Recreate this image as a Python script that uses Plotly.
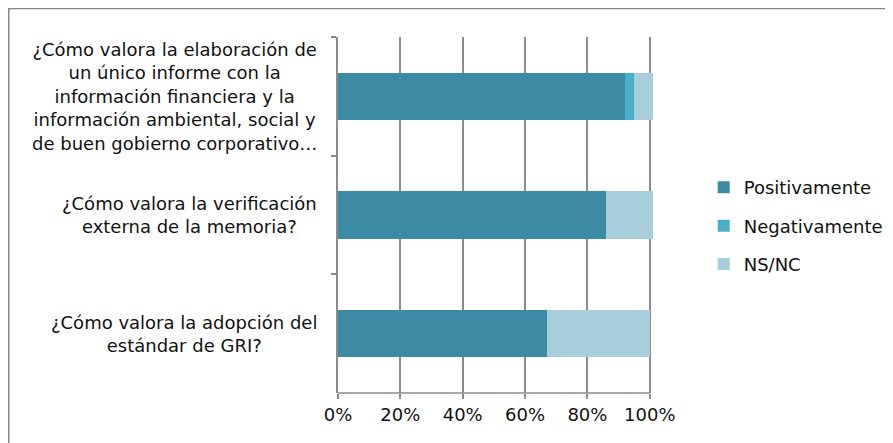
import plotly.graph_objs as go

# survey questions (top to bottom) and answer shares
preguntas = [
    "¿Cómo valora la elaboración de<br>un único informe con la<br>información financiera y la<br>información ambiental, social y<br>de buen gobierno corporativo…",
    "¿Cómo valora la verificación<br>externa de la memoria?",
    "¿Cómo valora la adopción del<br>estándar de GRI?",
]
cat_ids = ["q1", "q2", "q3"]
positivamente = [0.92, 0.86, 0.67]
negativamente = [0.03, 0.0, 0.0]
ns_nc = [0.06, 0.15, 0.33]

x_ticks = [0, 0.2, 0.4, 0.6, 0.8, 1.0]
x_labels = ["0%", "20%", "40%", "60%", "80%", "100%"]

series = [
    ("Positivamente", positivamente, "#3C8AA3"),
    ("Negativamente", negativamente, "#4BAEC8"),
    ("NS/NC", ns_nc, "#A8CEDC"),
]

fig = go.Figure()
for i, (name, vals, colour) in enumerate(series):
    fig.add_trace(
        go.Bar(
            y = cat_ids,
            x = vals,
            name = name,
            orientation = "h",
            marker = dict(color = colour, line = dict(width = 0)),
            legendgroup = "g{}".format(i),
        )
    )

# question labels, centred lines in a right aligned block
for cid, text in zip(cat_ids, preguntas):
    fig.add_annotation(
        x = 0, y = cid, xref = "x", yref = "y",
        text = text, showarrow = False,
        xanchor = "right", yanchor = "middle", align = "center",
        xshift = -19,
        font = dict(size = 18, color = "#111111"),
    )

# x axis line stops at 100% even though the range runs a bit further
fig.add_shape(
    type = "line", xref = "x", yref = "paper",
    x0 = -0.02, x1 = 1.0, y0 = 0, y1 = 0,
    line = dict(color = "#8C8C8C", width = 1.5),
)

# outer frame (only top and left edges fall inside the picture)
fig.add_shape(
    type = "rect", xref = "paper", yref = "paper",
    x0 = -1.0354, x1 = 1.85, y0 = -0.3, y1 = 1.0801,
    line = dict(color = "#878787", width = 1.5),
    fillcolor = "rgba(0,0,0,0)", layer = "below",
)

# note: the page body adds an 8px offset, margins account for it
fig.update_layout(
    width = 893,
    height = 443,
    margin = dict(l = 330, r = 244.76, t = 29, b = 58),
    barmode = "stack",
    bargap = 0.6,
    plot_bgcolor = "white",
    paper_bgcolor = "white",
    font = dict(family = "DejaVu Sans, Verdana, sans-serif", size = 18, color = "#111111"),
    showlegend = True,
    legend = dict(
        x = 1.150, y = 0.469, xanchor = "left", yanchor = "middle",
        tracegroupgap = 12, itemwidth = 30,
        font = dict(size = 18),
        bgcolor = "rgba(0,0,0,0)",
    ),
)
fig.update_xaxes(
    range = [0, 1.02],
    tickvals = x_ticks,
    ticktext = x_labels,
    showgrid = True, gridcolor = "#8C8C8C", gridwidth = 1.5,
    showline = False,
    ticks = "outside", ticklen = 5, tickcolor = "#8C8C8C", tickwidth = 1.5,
    zeroline = False, fixedrange = True,
)
fig.update_yaxes(
    categoryorder = "array", categoryarray = cat_ids,
    autorange = "reversed",
    showticklabels = False,
    showline = True, linecolor = "#8C8C8C", linewidth = 1.5,
    ticks = "outside", tickson = "boundaries", ticklen = 5,
    tickcolor = "#8C8C8C", tickwidth = 1.5,
    showgrid = False, zeroline = False, fixedrange = True,
)

fig.write_html("out.html")
